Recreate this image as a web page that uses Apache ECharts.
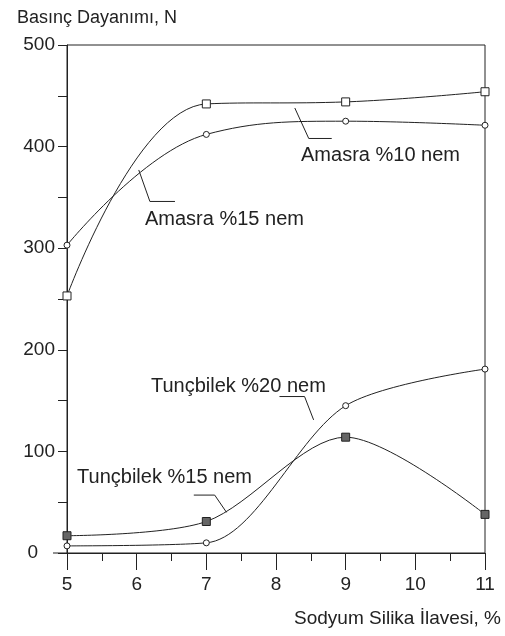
<!DOCTYPE html>
<html><head><meta charset="utf-8">
<script src="https://cdn.jsdelivr.net/npm/echarts@6/dist/echarts.min.js"></script>
<style>html,body{margin:0;padding:0;background:#fff}#c{width:505px;height:636px}</style>
</head><body><div id="c"></div>
<script>
const xValues = [5, 7, 9, 11];
const amasra10 = [253, 442, 444, 454];
const amasra15 = [303, 412, 425, 421];
const tuncbilek20 = [7, 10, 145, 181];
const tuncbilek15 = [17, 31, 114, 38];
const yTicks = [0, 100, 200, 300, 400, 500];
const xTicks = [5, 6, 7, 8, 9, 10, 11];

// annotation texts with anchor and leader points in data coordinates
const annotations = [
  {text: 'Amasra %10 nem', at: [9.50, 391], lead: [[8.27, 438], [8.47, 408], [8.80, 408]]},
  {text: 'Amasra %15 nem', at: [7.26, 328], lead: [[6.03, 377], [6.19, 346], [6.55, 346]]},
  {text: 'Tunçbilek %20 nem', at: [7.46, 164], lead: [[8.05, 154], [8.41, 154], [8.54, 131]]},
  {text: 'Tunçbilek %15 nem', at: [6.40, 74], lead: [[6.82, 57], [7.12, 57], [7.29, 40]]}
];

const C = '#222';
const FONT = 'Liberation Sans, Arial, sans-serif';
function pts(arr){ return xValues.map((x,i)=>[x, arr[i]]); }
function line(name, arr, sym, size, fill, sm){
  return {name, type:'line', data: pts(arr), smooth: sm, symbol: sym, symbolSize: size,
    showSymbol: true, lineStyle:{color:C, width:1}, itemStyle:{color:fill, borderColor:C, borderWidth:1}};
}
const chart = echarts.init(document.getElementById('c'));
chart.setOption({
  animation:false,
  backgroundColor:'#fff',
  grid:{left:67, right:20, top:45, bottom:83, show:true, borderColor:C, borderWidth:1},
  title:{text:'Basınç Dayanımı, N', left:12, top:4, textStyle:{fontFamily:FONT, fontSize:18, fontWeight:'normal', color:C}},
  xAxis:{type:'value', min:5, max:11, interval:1,
    name:'Sodyum Silika İlavesi, %', nameLocation:'end', nameGap:0,
    nameTextStyle:{fontFamily:FONT, fontSize:19, color:C, align:'right', verticalAlign:'top', padding:[56,-16,0,0]},
    axisLine:{lineStyle:{color:C, width:1}},
    axisTick:{show:true, length:17, lineStyle:{color:C}},
    minorTick:{show:true, splitNumber:2, length:8, lineStyle:{color:C}},
    splitLine:{show:false},
    axisLabel:{fontFamily:FONT, fontSize:19, color:C, margin:22}},
  yAxis:{type:'value', min:0, max:500, interval:100,
    axisLine:{show:true, lineStyle:{color:C, width:1}},
    axisTick:{show:true, length:9, lineStyle:{color:C}},
    minorTick:{show:true, splitNumber:2, length:9, lineStyle:{color:C}},
    splitLine:{show:false},
    axisLabel:{fontFamily:FONT, fontSize:19, color:C, margin:12,
      formatter: v => v === 0 ? '{z|0}' : String(v),
      rich:{z:{fontFamily:FONT, fontSize:19, color:C, padding:[0,17,0,0]}}}},
  series:[
    line('Amasra %10 nem', amasra10, 'rect', 8, '#fff', 0.4),
    line('Amasra %15 nem', amasra15, 'circle', 6, '#fff', 0.4),
    line('Tunçbilek %20 nem', tuncbilek20, 'circle', 6, '#fff', 0.3),
    line('Tunçbilek %15 nem', tuncbilek15, 'rect', 8, '#666', 0.3)
  ]
});
const g = [];
annotations.forEach(a=>{
  const p = chart.convertToPixel({gridIndex:0}, a.at);
  g.push({type:'text', x:p[0], y:p[1], style:{text:a.text, fill:C, font:'20px '+FONT, align:'center', verticalAlign:'middle'}});
  g.push({type:'polyline', shape:{points:a.lead.map(d=>chart.convertToPixel({gridIndex:0}, d))}, style:{stroke:C, lineWidth:1, fill:null}});
});
// x axis line extends a little to the left of the y axis
const o = chart.convertToPixel({gridIndex:0}, [5, 0]);
g.push({type:'line', shape:{x1:o[0]-14, y1:o[1], x2:o[0], y2:o[1]}, style:{stroke:C, lineWidth:1}});
chart.setOption({graphic:g});
</script></body></html>
